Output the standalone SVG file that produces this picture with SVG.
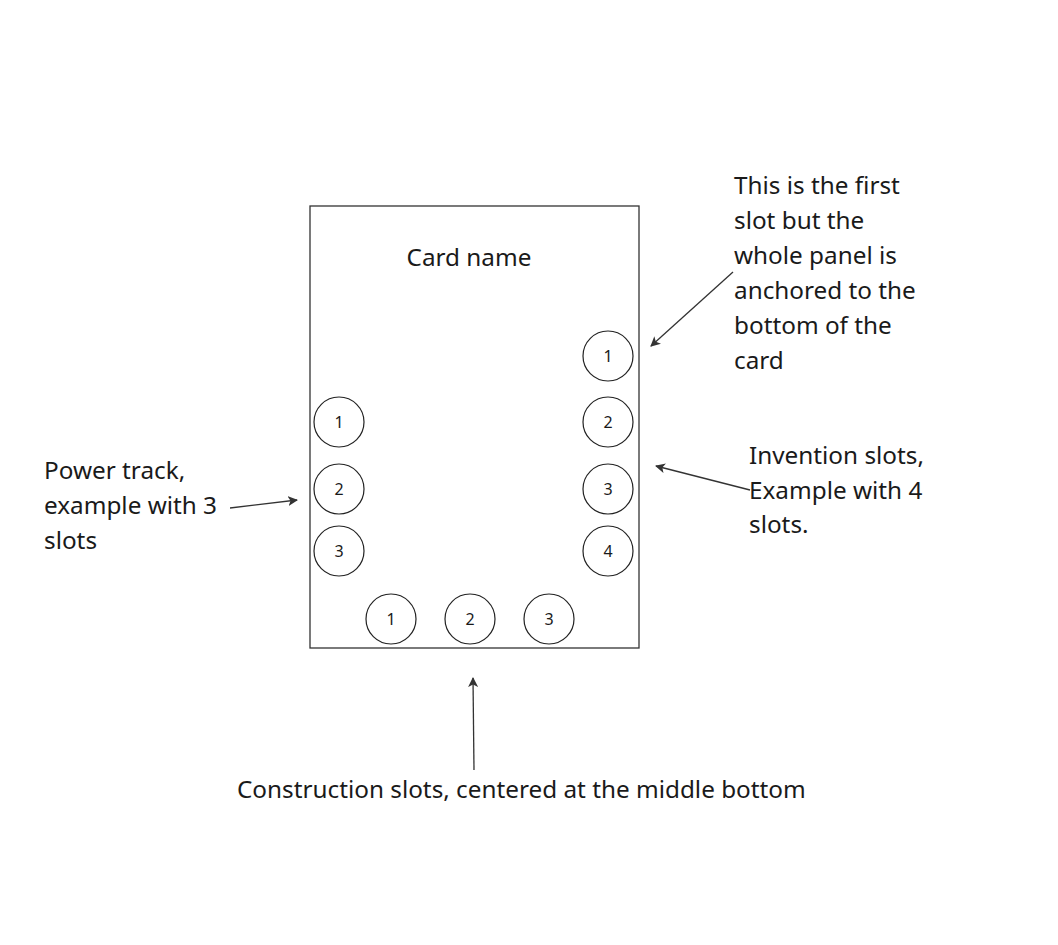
<svg xmlns="http://www.w3.org/2000/svg" width="1058" height="945" viewBox="0 0 1058 945">
<style>
.t{font-family:"Noto Sans","Open Sans",sans-serif;font-size:24.3px;fill:#1a1a1a}
.n{font-family:"Noto Sans","Open Sans",sans-serif;font-size:16px;fill:#1a1a1a;text-anchor:middle}
.c{fill:#fff;stroke:#222;stroke-width:1.2}
.a{fill:none;stroke:#333;stroke-width:1.3;marker-end:url(#ah)}
</style>
<defs>
<marker id="ah" viewBox="0 0 10 10" refX="9" refY="5" markerWidth="10" markerHeight="10" markerUnits="userSpaceOnUse" orient="auto">
<path d="M0,0 L10,5 L0,10 L2.5,5 z" fill="#333"/>
</marker>
</defs>
<rect width="1058" height="945" fill="#fff"/>
<g id="card">
<rect x="310" y="206" width="329" height="442" fill="#fff" stroke="#333" stroke-width="1.3"/>
<text class="t" x="469" y="266" text-anchor="middle">Card name</text>
</g>
<g id="power-slots">
<circle class="c" cx="339" cy="422" r="25"/><text class="n" x="339" y="428">1</text>
<circle class="c" cx="339" cy="489" r="25"/><text class="n" x="339" y="495">2</text>
<circle class="c" cx="339" cy="551" r="25"/><text class="n" x="339" y="557">3</text>
</g>
<g id="invention-slots">
<circle class="c" cx="608" cy="356" r="25"/><text class="n" x="608" y="362">1</text>
<circle class="c" cx="608" cy="422" r="25"/><text class="n" x="608" y="428">2</text>
<circle class="c" cx="608" cy="489" r="25"/><text class="n" x="608" y="495">3</text>
<circle class="c" cx="608" cy="551" r="25"/><text class="n" x="608" y="557">4</text>
</g>
<g id="construction-slots">
<circle class="c" cx="391" cy="619" r="25"/><text class="n" x="391" y="625">1</text>
<circle class="c" cx="470" cy="619" r="25"/><text class="n" x="470" y="625">2</text>
<circle class="c" cx="549" cy="619" r="25"/><text class="n" x="549" y="625">3</text>
</g>
<g id="note-first">
<text class="t" x="734" y="194">This is the first</text>
<text class="t" x="734" y="229">slot but the</text>
<text class="t" x="734" y="264">whole panel is</text>
<text class="t" x="734" y="299">anchored to the</text>
<text class="t" x="734" y="334">bottom of the</text>
<text class="t" x="734" y="369">card</text>
</g>
<g id="note-power">
<text class="t" x="44" y="479">Power track,</text>
<text class="t" x="44" y="514">example with 3</text>
<text class="t" x="44" y="549">slots</text>
</g>
<g id="note-invention">
<text class="t" x="749" y="464">Invention slots,</text>
<text class="t" x="749" y="499">Example with 4</text>
<text class="t" x="749" y="533">slots.</text>
</g>
<g id="note-construction">
<text class="t" x="237" y="798">Construction slots, centered at the middle bottom</text>
</g>
<g id="connectors">
<line class="a" x1="733" y1="272" x2="651" y2="346"/>
<line class="a" x1="230" y1="508" x2="297" y2="500"/>
<line class="a" x1="750" y1="490" x2="656" y2="466"/>
<line class="a" x1="474" y1="770" x2="473" y2="678"/>
</g>
</svg>
